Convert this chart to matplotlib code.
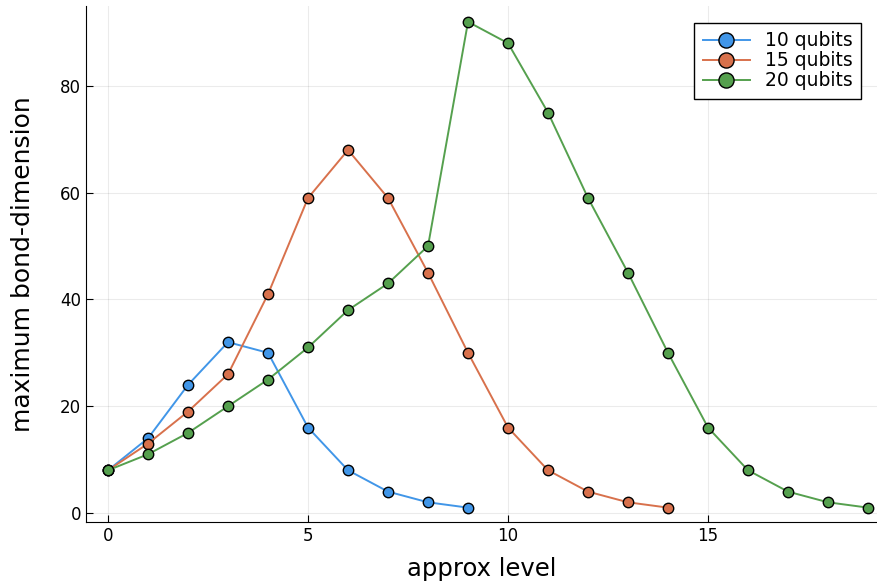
import matplotlib.pyplot as plt

# bond dimension per approx level
levels_10 = list(range(10))
bond_10 = [8, 14, 24, 32, 30, 16, 8, 4, 2, 1]
levels_15 = list(range(15))
bond_15 = [8, 13, 19, 26, 41, 59, 68, 59, 45, 30, 16, 8, 4, 2, 1]
levels_20 = list(range(20))
bond_20 = [8, 11, 15, 20, 25, 31, 38, 43, 50, 92, 88, 75, 59, 45, 30, 16, 8, 4, 2, 1]

labels = ['10 qubits', '15 qubits', '20 qubits']
colors = ['#4196E8', '#D8714C', '#55A04E']

fig = plt.figure(figsize=(8.78, 5.82), dpi=100)
ax = fig.add_axes([0.098, 0.103, 0.902, 0.887])

series = [(levels_10, bond_10), (levels_15, bond_15), (levels_20, bond_20)]
for (x, y), lab, c in zip(series, labels, colors):
    ax.plot(x, y, '-o', color=c, lw=1.4, markersize=7.5, markeredgecolor='black',
            markeredgewidth=1.0, label=lab)

ax.set_xlim(-0.55, 19.25)
ax.set_ylim(-1.7, 95)
ax.set_xticks([0, 5, 10, 15])
ax.set_yticks([0, 20, 40, 60, 80])
ax.grid(True, color='black', alpha=0.08, lw=0.8)
ax.spines['top'].set_visible(False)
ax.spines['right'].set_visible(False)
ax.tick_params(direction='in', length=5, labelsize=12, width=0.8)
ax.set_xlabel('approx level', fontsize=17.5, labelpad=9)
ax.set_ylabel('maximum bond-dimension', fontsize=18, labelpad=18)

leg = ax.legend(loc='upper right', bbox_to_anchor=(0.99, 0.985), fontsize=13.5,
                frameon=True, fancybox=False, edgecolor='black', markerscale=1.45,
                handlelength=2.5, borderpad=0.45, labelspacing=0.05, framealpha=1)
leg.get_frame().set_linewidth(1.0)

fig.savefig('out.png', dpi=100)
